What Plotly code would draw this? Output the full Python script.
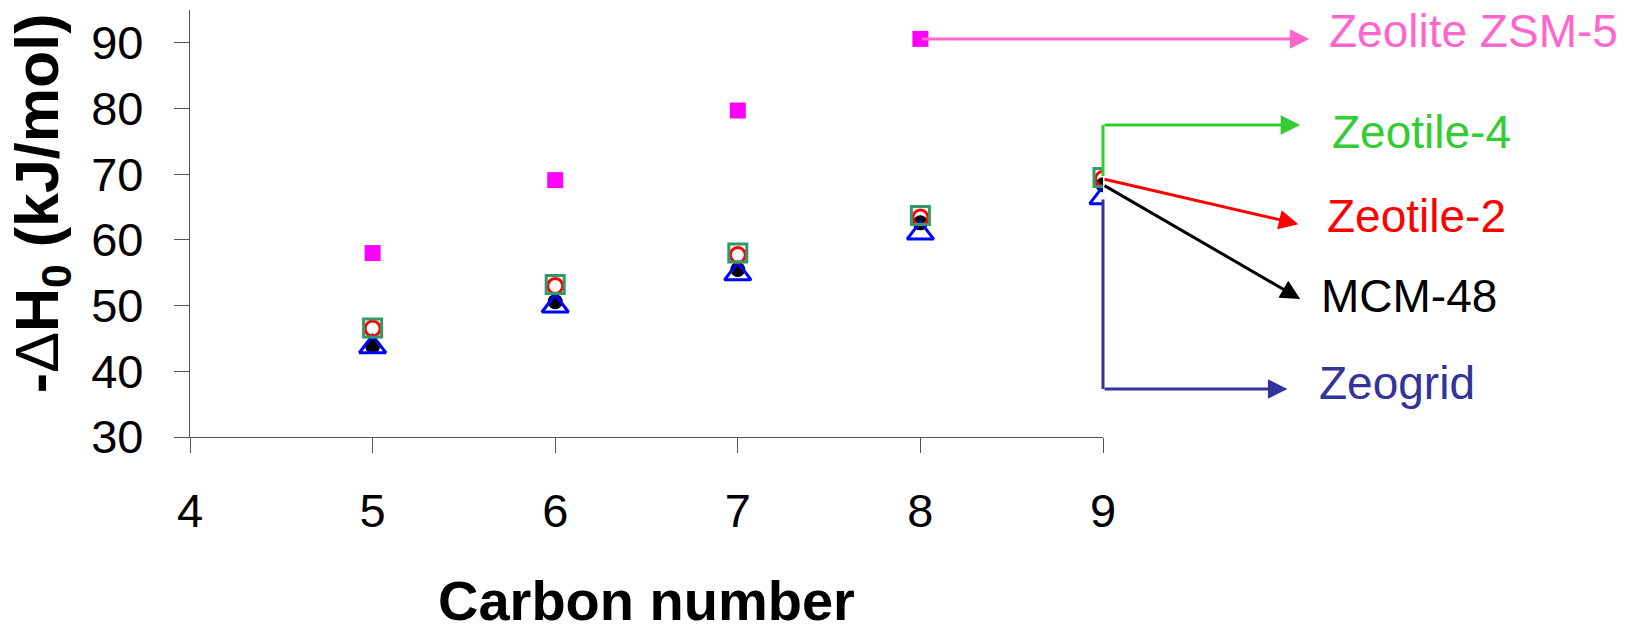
import plotly.graph_objects as go

carbon = [5, 6, 7, 8, 9]
zsm5_x = [5, 6, 7, 8]
zsm5 = [58.0, 69.1, 79.7, 90.6]
zeotile4 = [46.6, 53.2, 58.0, 63.7, 69.5]
zeotile2 = [46.5, 53.0, 57.7, 63.4, 69.3]
mcm48 = [43.8, 50.6, 55.5, 62.6, 68.4]
zeogrid = [43.7, 49.9, 54.8, 61.0, 66.4]

FONT = "Liberation Sans, Arial, sans-serif"

fig = go.Figure()
fig.add_trace(go.Scatter(x=carbon, y=mcm48, mode="markers", name="MCM-48",
                         marker=dict(symbol="circle", size=15, color="black")))
fig.add_trace(go.Scatter(x=carbon, y=zeogrid, mode="markers", name="Zeogrid",
                         marker=dict(symbol="triangle-up-open", size=23, color="#0000FF",
                                     line=dict(color="#0000FF", width=3))))
fig.add_trace(go.Scatter(x=carbon, y=zeotile2, mode="markers", name="Zeotile-2",
                         marker=dict(symbol="circle-open", size=15, color="#FF0000",
                                     line=dict(color="#FF0000", width=3))))
fig.add_trace(go.Scatter(x=carbon, y=zeotile4, mode="markers", name="Zeotile-4",
                         marker=dict(symbol="square-open", size=18, color="#339966",
                                     line=dict(color="#339966", width=3))))
fig.add_trace(go.Scatter(x=zsm5_x, y=zsm5, mode="markers", name="Zeolite ZSM-5",
                         marker=dict(symbol="square", size=16, color="#FF00FF")))

ann = []

def arrow(x0, y0, x1, y1, color, head=True):
    ann.append(dict(x=x1, y=y1, xref="x", yref="y", ax=x0, ay=y0, axref="x", ayref="y",
                    text="", showarrow=True, arrowcolor=color, arrowwidth=3,
                    arrowhead=2 if head else 0, arrowsize=1.3, standoff=0, startstandoff=0))

# Zeolite ZSM-5
arrow(8, zsm5[3], 10.13, zsm5[3], "#FF66CC")
# Zeotile-4 (elbow up then right)
arrow(9, zeotile4[4], 9, 77.5, "#33CC33", head=False)
arrow(9, 77.5, 10.08, 77.5, "#33CC33")
# Zeotile-2
arrow(9, zeotile2[4], 10.07, 62.4, "#FF0000")
# MCM-48
arrow(9, mcm48[4], 10.08, 51.0, "#000000")
# Zeogrid (elbow down then right)
arrow(9, zeogrid[4], 9, 37.3, "#333399", head=False)
arrow(9, 37.3, 10.01, 37.3, "#333399")

labels = [("Zeolite ZSM-5", 1.245, 91.8, "#FF66CC"),
          ("Zeotile-4", 1.249, 76.4, "#33CC33"),
          ("Zeotile-2", 1.243, 63.6, "#FF0000"),
          ("MCM-48", 1.237, 51.5, "#000000"),
          ("Zeogrid", 1.234, 38.2, "#333399")]
for t, x, y, c in labels:
    ann.append(dict(x=x, y=y, xref="paper", yref="y", text=t, showarrow=False,
                    xanchor="left", yanchor="middle",
                    font=dict(family=FONT, size=46, color=c)))

ann.append(dict(x=-0.163, y=0.548, xref="paper", yref="paper", textangle=-90,
                text="<b>-<span style='font-weight:normal'>Δ</span>H<sub>0</sub> (kJ/mol)</b>",
                showarrow=False, xanchor="center", yanchor="middle",
                font=dict(family=FONT, size=61, color="black")))
ann.append(dict(x=0.5, y=-0.383, xref="paper", yref="paper",
                text="<b>Carbon number</b>", showarrow=False,
                xanchor="center", yanchor="middle",
                font=dict(family=FONT, size=56, color="black")))

fig.update_layout(
    width=1624, height=621,
    margin=dict(l=182, r=529, t=2, b=192),
    plot_bgcolor="white", paper_bgcolor="white",
    showlegend=False,
    annotations=ann,
    font=dict(family=FONT, color="black"),
)
fig.update_xaxes(range=[4, 9], tick0=4, dtick=1, ticks="outside", ticklen=15,
                 tickwidth=1.3, tickcolor="#555", showline=True, linecolor="#555",
                 linewidth=1.3, showgrid=False, zeroline=False,
                 tickfont=dict(family=FONT, size=47, color="black"),
                 ticklabelstandoff=17)
fig.update_yaxes(range=[30, 95], tick0=30, dtick=10, ticks="outside", ticklen=15,
                 tickwidth=1.3, tickcolor="#555", showline=True, linecolor="#555",
                 linewidth=1.3, showgrid=False, zeroline=False,
                 tickfont=dict(family=FONT, size=47, color="black"),
                 ticklabelstandoff=21)

fig.write_html("out.html")
